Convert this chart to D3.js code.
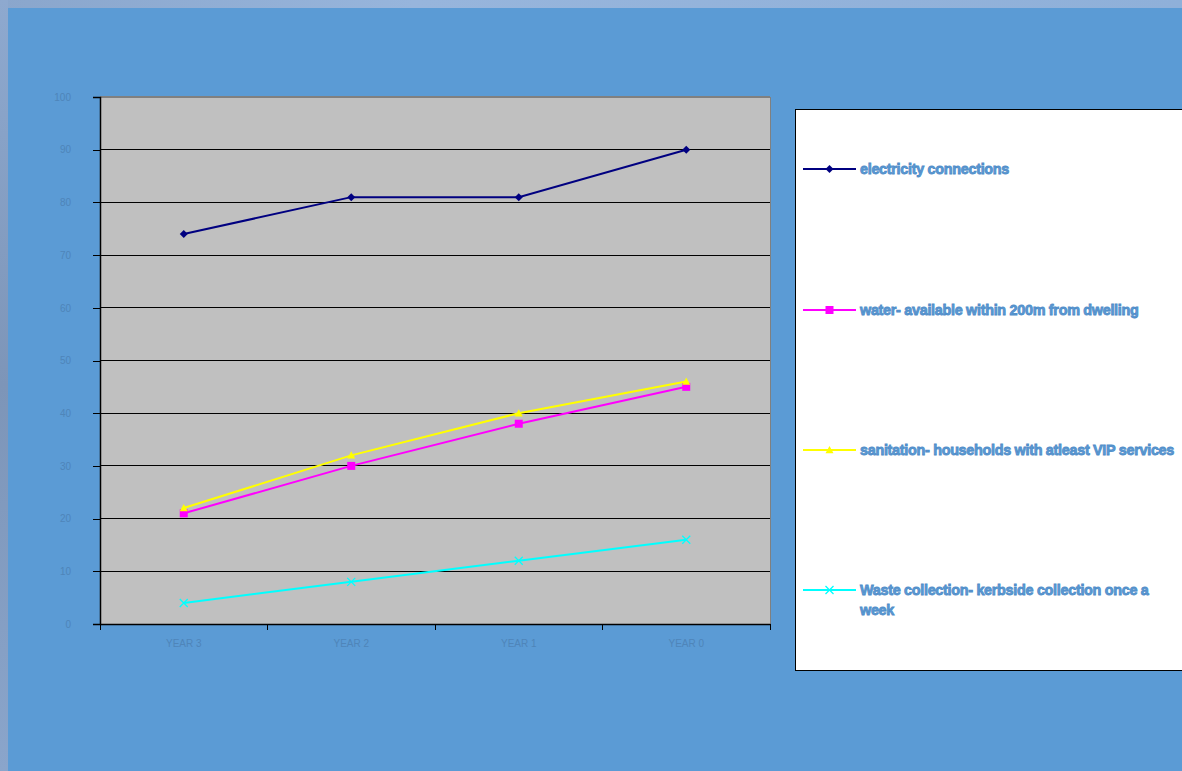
<!DOCTYPE html>
<html>
<head>
<meta charset="utf-8">
<script src="https://cdn.jsdelivr.net/npm/d3@7"></script>
<style>
  html, body { margin: 0; padding: 0; background: #5b9bd5; }
  svg { display: block; }
</style>
</head>
<body>
<svg id="chart" width="1182" height="771"></svg>
<script>
// Categories and series values
const categories = ["YEAR 3", "YEAR 2", "YEAR 1", "YEAR 0"];
const yTicks = [0, 10, 20, 30, 40, 50, 60, 70, 80, 90, 100];
const electricity = [74, 81, 81, 90];
const water = [21, 30, 38, 45];
const sanitation = [22, 32, 40, 46];
const waste = [4, 8, 12, 16];
const seriesNames = [
  "electricity connections",
  "water- available within 200m from dwelling",
  "sanitation- households with atleast VIP services",
  "Waste collection- kerbside collection once a week"
];

const series = [
  { name: seriesNames[0], values: electricity, color: "#000080", marker: "diamond" },
  { name: seriesNames[1], values: water, color: "#ff00ff", marker: "square" },
  { name: seriesNames[2], values: sanitation, color: "#ffff00", marker: "triangle" },
  { name: seriesNames[3], values: waste, color: "#00ffff", marker: "cross" }
];

const svg = d3.select("#chart");
const W = 1182, H = 771;

// Window frame: lighter strip on top, greyish strip on the left
const defs = svg.append("defs");
const gTop = defs.append("linearGradient").attr("id", "topStrip").attr("x1", 0).attr("x2", 1);
gTop.append("stop").attr("offset", "0%").attr("stop-color", "#8aa6cc");
gTop.append("stop").attr("offset", "35%").attr("stop-color", "#97b5dc");
gTop.append("stop").attr("offset", "100%").attr("stop-color", "#8fb0d9");
const gLeft = defs.append("linearGradient").attr("id", "leftStrip").attr("x1", 0).attr("x2", 0).attr("y1", 0).attr("y2", 1);
gLeft.append("stop").attr("offset", "0%").attr("stop-color", "#8ea9cf");
gLeft.append("stop").attr("offset", "50%").attr("stop-color", "#7d95b8");
gLeft.append("stop").attr("offset", "100%").attr("stop-color", "#8aa5cb");

svg.append("rect").attr("x", 0).attr("y", 0).attr("width", W).attr("height", H).attr("fill", "#5b9bd5");
svg.append("rect").attr("x", 0).attr("y", 0).attr("width", W).attr("height", 8).attr("fill", "url(#topStrip)");
svg.append("rect").attr("x", 0).attr("y", 0).attr("width", 8).attr("height", H).attr("fill", "url(#leftStrip)");

// Plot area
const plot = { left: 100, top: 97, right: 770, bottom: 624 };

const x = d3.scaleBand().domain(categories).range([plot.left, plot.right]).padding(0);
const y = d3.scaleLinear().domain([0, 100]).range([plot.bottom, plot.top]);
const cx = d => x(d) + x.bandwidth() / 2;

svg.append("rect")
  .attr("x", plot.left).attr("y", plot.top)
  .attr("width", plot.right - plot.left).attr("height", plot.bottom - plot.top)
  .attr("fill", "#c0c0c0");

// Horizontal gridlines
svg.append("g")
  .selectAll("line")
  .data(yTicks.filter(t => t > 0))
  .join("line")
  .attr("x1", plot.left).attr("x2", plot.right)
  .attr("y1", d => y(d)).attr("y2", d => y(d))
  .attr("stroke", d => d === 100 ? "#808080" : "#000")
  .attr("stroke-width", d => d === 100 ? 2 : 1)
  .attr("shape-rendering", "crispEdges");

// Right edge of plot area
svg.append("line")
  .attr("x1", plot.right).attr("x2", plot.right)
  .attr("y1", plot.top).attr("y2", plot.bottom)
  .attr("stroke", "#808080").attr("shape-rendering", "crispEdges");

// Y axis
const yAxis = d3.axisLeft(y).tickValues(yTicks).tickSize(7).tickPadding(22).tickFormat(d3.format("d"));
const gy = svg.append("g").attr("transform", `translate(${plot.left},0)`).call(yAxis);
gy.select(".domain").attr("stroke", "#000").attr("stroke-width", 1.5);
gy.selectAll(".tick line").attr("stroke", "#000").attr("shape-rendering", "crispEdges");
gy.selectAll(".tick text")
  .attr("fill", "#4a7cae").attr("font-family", "Liberation Sans, Arial, sans-serif")
  .attr("font-size", 10).attr("opacity", 0.7);

// X axis
const xAxis = d3.axisBottom(x).tickSize(0).tickPadding(16);
const gx = svg.append("g").attr("transform", `translate(0,${plot.bottom})`).call(xAxis);
gx.select(".domain").attr("stroke", "#000").attr("stroke-width", 1.5);
gx.selectAll(".tick text")
  .attr("fill", "#4a7cae").attr("font-family", "Liberation Sans, Arial, sans-serif")
  .attr("font-size", 10).attr("opacity", 0.7);
// Category boundary ticks
const bounds = categories.map(c => x(c)).concat([plot.right]);
svg.append("g").selectAll("line").data(bounds).join("line")
  .attr("x1", d => d).attr("x2", d => d)
  .attr("y1", plot.bottom).attr("y2", plot.bottom + 6)
  .attr("stroke", "#000").attr("shape-rendering", "crispEdges");

// Marker drawing
function drawMarker(g, type, color, size) {
  const s = size;
  if (type === "diamond") {
    g.append("path").attr("d", `M0,${-s}L${s},0L0,${s}L${-s},0Z`).attr("fill", color);
  } else if (type === "square") {
    g.append("rect").attr("x", -s).attr("y", -s).attr("width", 2 * s).attr("height", 2 * s).attr("fill", color);
  } else if (type === "triangle") {
    g.append("path").attr("d", `M0,${-s}L${s},${s * 0.8}L${-s},${s * 0.8}Z`).attr("fill", color);
  } else if (type === "cross") {
    g.append("path").attr("d", `M${-s},${-s}L${s},${s}M${-s},${s}L${s},${-s}`)
      .attr("stroke", color).attr("stroke-width", 1.3).attr("fill", "none");
  }
}

const line = d3.line().x((d, i) => cx(categories[i])).y(d => y(d));

series.forEach(s => {
  svg.append("path")
    .attr("d", line(s.values))
    .attr("fill", "none")
    .attr("stroke", s.color)
    .attr("stroke-width", 2);
  s.values.forEach((v, i) => {
    const g = svg.append("g").attr("transform", `translate(${cx(categories[i])},${y(v)})`);
    drawMarker(g, s.marker, s.color, 4);
  });
});

// Legend
const legend = { x: 795, y: 109, w: 400, h: 561 };
svg.append("rect")
  .attr("x", legend.x + 0.5).attr("y", legend.y + 0.5)
  .attr("width", legend.w).attr("height", legend.h)
  .attr("fill", "#fff").attr("stroke", "#000").attr("stroke-width", 1);

const legendY = [169, 310, 450, 590];
const wrapped = [
  [seriesNames[0]],
  [seriesNames[1]],
  [seriesNames[2]],
  ["Waste collection- kerbside collection once a", "week"]
];

series.forEach((s, i) => {
  const ly = legendY[i];
  svg.append("line")
    .attr("x1", 803).attr("x2", 856).attr("y1", ly).attr("y2", ly)
    .attr("stroke", s.color).attr("stroke-width", 2);
  const g = svg.append("g").attr("transform", `translate(829.5,${ly})`);
  drawMarker(g, s.marker, s.color, 4);
  const t = svg.append("text")
    .attr("x", 860).attr("y", ly + 5)
    .attr("font-family", "Liberation Sans, Arial, sans-serif")
    .attr("font-size", 14.4).attr("font-weight", "bold")
    .attr("letter-spacing", -0.3)
    .attr("fill", "#5b9bd5")
    .attr("stroke", "#4f8cc8").attr("stroke-width", 0.8);
  wrapped[i].forEach((txt, k) => {
    t.append("tspan").attr("x", 860).attr("dy", k === 0 ? 0 : 20).text(txt);
  });
});
</script>
</body>
</html>
